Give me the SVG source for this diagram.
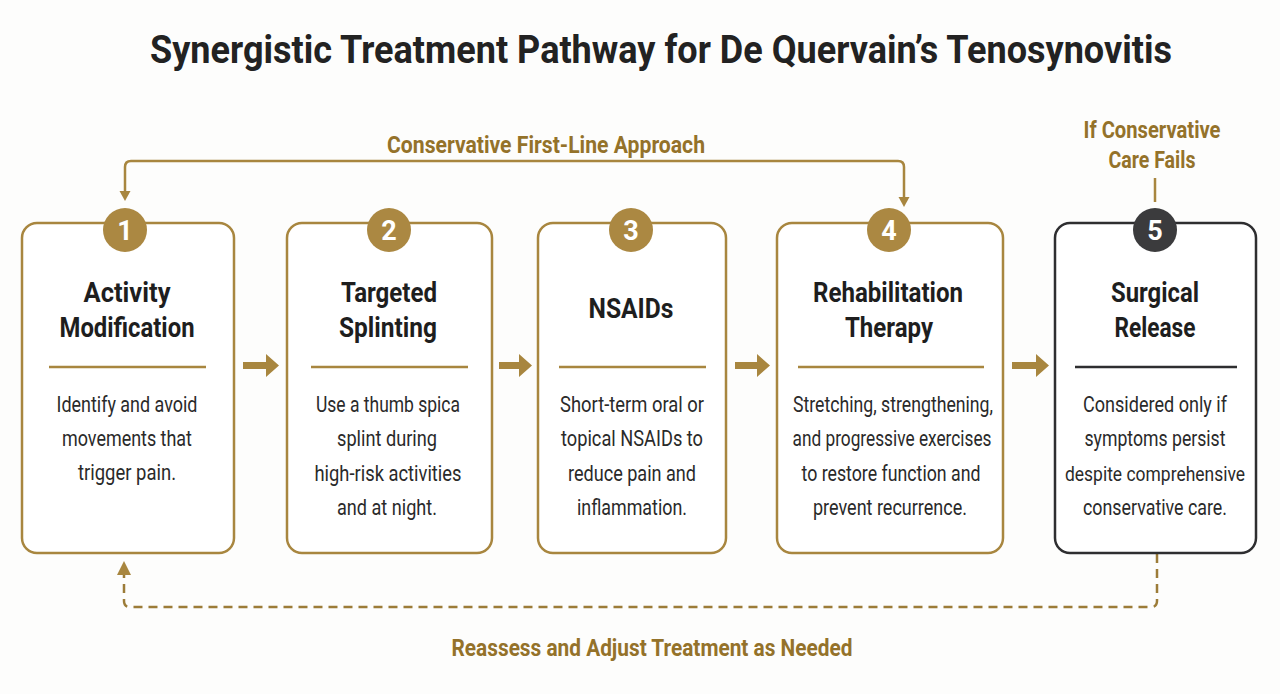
<svg xmlns="http://www.w3.org/2000/svg" width="1280" height="694" viewBox="0 0 1280 694">
<style>
  .bg{fill:#fdfdfc}
  .box{fill:#ffffff;stroke:#a8863f;stroke-width:2.5}
  .box.dark{stroke:#2e2e30}
  .badge{fill:#ab8842}
  .badge.dark{fill:#3b3b3d}
  .num{font-family:Roboto,"Liberation Sans",sans-serif;font-weight:700;font-size:27px;fill:#ffffff;text-anchor:middle}
  .ttl{font-family:Roboto,"Liberation Sans",sans-serif;font-weight:700;font-size:28px;fill:#1e1e1e;text-anchor:middle}
  .body{font-family:Roboto,"Liberation Sans",sans-serif;font-weight:400;font-size:22px;fill:#2a2a2a;text-anchor:middle}
  .body.sm{font-size:19.5px}
  .lbl{font-family:Roboto,"Liberation Sans",sans-serif;font-weight:700;font-size:23px;fill:#94722a;text-anchor:middle}
  .title{font-family:Roboto,"Liberation Sans",sans-serif;font-weight:700;font-size:38px;fill:#222222;text-anchor:middle}
  .div{stroke:#a8863f;stroke-width:2.5}
  .div.dark{stroke:#2e2e30}
  .conn{fill:none;stroke:#a8863f;stroke-width:2.5}
  .dash{fill:none;stroke:#9c7c38;stroke-width:2.5;stroke-dasharray:9 6}
  .head{fill:#a8863f}
  .flow{fill:#a8863f}
</style>
<rect class="bg" x="0" y="0" width="1280" height="694"/>

<text class="title" x="661" y="63" textLength="1022" lengthAdjust="spacingAndGlyphs">Synergistic Treatment Pathway for De Quervain’s Tenosynovitis</text>

<g id="connectors">
  <path class="conn" d="M904,198 L904,167 Q904,161 898,161 L131,161 Q125,161 125,167 L125,192"/>
  <polygon class="head" points="119.5,191 130.5,191 125,201"/>
  <polygon class="head" points="898.5,197 909.5,197 904,207"/>
  <text class="lbl" x="546" y="153" textLength="318" lengthAdjust="spacingAndGlyphs">Conservative First-Line Approach</text>

  <line class="conn" x1="1155" y1="178" x2="1155" y2="202"/>
  <text class="lbl" x="1152" y="138" textLength="137" lengthAdjust="spacingAndGlyphs">If Conservative</text>
  <text class="lbl" x="1152" y="168" textLength="87" lengthAdjust="spacingAndGlyphs">Care Fails</text>

  <path class="flow" d="M243,362 L266,362 L266,354 L279,365.5 L266,377 L266,369 L243,369 Z"/>
  <path class="flow" d="M499,362 L519,362 L519,354 L532,365.5 L519,377 L519,369 L499,369 Z"/>
  <path class="flow" d="M735,362 L757,362 L757,354 L770,365.5 L757,377 L757,369 L735,369 Z"/>
  <path class="flow" d="M1012,362 L1036,362 L1036,354 L1049,365.5 L1036,377 L1036,369 L1012,369 Z"/>

  <path class="dash" d="M1157,554 L1157,601 Q1157,607 1151,607 L130,607 Q124,607 124,601 L124,574"/>
  <polygon class="head" points="117,575 131,575 124,561"/>
  <text class="lbl" x="652" y="656" textLength="401" lengthAdjust="spacingAndGlyphs">Reassess and Adjust Treatment as Needed</text>
</g>

<g id="node1">
  <rect class="box" x="22" y="223" width="212" height="330" rx="15"/>
  <circle class="badge" cx="125" cy="230" r="22"/>
  <text class="num" x="125" y="240">1</text>
  <text class="ttl" x="127" y="302" textLength="87" lengthAdjust="spacingAndGlyphs">Activity</text>
  <text class="ttl" x="127" y="337" textLength="135" lengthAdjust="spacingAndGlyphs">Modification</text>
  <line class="div" x1="49" y1="367" x2="206" y2="367"/>
  <text class="body" x="127" y="412" textLength="141" lengthAdjust="spacingAndGlyphs">Identify and avoid</text>
  <text class="body" x="127" y="446" textLength="130" lengthAdjust="spacingAndGlyphs">movements that</text>
  <text class="body" x="127" y="480" textLength="98" lengthAdjust="spacingAndGlyphs">trigger pain.</text>
</g>

<g id="node2">
  <rect class="box" x="287" y="223" width="205" height="330" rx="15"/>
  <circle class="badge" cx="389" cy="230" r="22"/>
  <text class="num" x="389" y="240">2</text>
  <text class="ttl" x="389" y="302" textLength="96" lengthAdjust="spacingAndGlyphs">Targeted</text>
  <text class="ttl" x="388" y="337" textLength="98" lengthAdjust="spacingAndGlyphs">Splinting</text>
  <line class="div" x1="311" y1="367" x2="468" y2="367"/>
  <text class="body" x="388" y="412" textLength="144" lengthAdjust="spacingAndGlyphs">Use a thumb spica</text>
  <text class="body" x="387" y="446" textLength="100" lengthAdjust="spacingAndGlyphs">splint during</text>
  <text class="body" x="388" y="481" textLength="147" lengthAdjust="spacingAndGlyphs">high-risk activities</text>
  <text class="body" x="387" y="515" textLength="100" lengthAdjust="spacingAndGlyphs">and at night.</text>
</g>

<g id="node3">
  <rect class="box" x="538" y="223" width="188" height="330" rx="15"/>
  <circle class="badge" cx="631" cy="230" r="22"/>
  <text class="num" x="631" y="240">3</text>
  <text class="ttl" x="631" y="318" textLength="85" lengthAdjust="spacingAndGlyphs">NSAIDs</text>
  <line class="div" x1="559" y1="367" x2="706" y2="367"/>
  <text class="body" x="632" y="412" textLength="144" lengthAdjust="spacingAndGlyphs">Short-term oral or</text>
  <text class="body" x="632" y="446" textLength="142" lengthAdjust="spacingAndGlyphs">topical NSAIDs to</text>
  <text class="body" x="632" y="481" textLength="128" lengthAdjust="spacingAndGlyphs">reduce pain and</text>
  <text class="body" x="632" y="515" textLength="110" lengthAdjust="spacingAndGlyphs">inflammation.</text>
</g>

<g id="node4">
  <rect class="box" x="777" y="223" width="226" height="330" rx="15"/>
  <circle class="badge" cx="889" cy="230" r="22"/>
  <text class="num" x="889" y="240">4</text>
  <text class="ttl" x="888" y="302" textLength="150" lengthAdjust="spacingAndGlyphs">Rehabilitation</text>
  <text class="ttl" x="889" y="337" textLength="88" lengthAdjust="spacingAndGlyphs">Therapy</text>
  <line class="div" x1="798" y1="367" x2="984" y2="367"/>
  <text class="body" x="893" y="412" textLength="200" lengthAdjust="spacingAndGlyphs">Stretching, strengthening,</text>
  <text class="body" x="892" y="446" textLength="199" lengthAdjust="spacingAndGlyphs">and progressive exercises</text>
  <text class="body" x="891" y="481" textLength="179" lengthAdjust="spacingAndGlyphs">to restore function and</text>
  <text class="body" x="890" y="515" textLength="154" lengthAdjust="spacingAndGlyphs">prevent recurrence.</text>
</g>

<g id="node5">
  <rect class="box dark" x="1055" y="223" width="201" height="330" rx="15"/>
  <circle class="badge dark" cx="1155" cy="230" r="22"/>
  <text class="num" x="1155" y="240">5</text>
  <text class="ttl" x="1155" y="302" textLength="88" lengthAdjust="spacingAndGlyphs">Surgical</text>
  <text class="ttl" x="1155" y="337" textLength="81" lengthAdjust="spacingAndGlyphs">Release</text>
  <line class="div dark" x1="1075" y1="367" x2="1237" y2="367"/>
  <text class="body" x="1155" y="412" textLength="144" lengthAdjust="spacingAndGlyphs">Considered only if</text>
  <text class="body" x="1155" y="446" textLength="141" lengthAdjust="spacingAndGlyphs">symptoms persist</text>
  <text class="body sm" x="1155" y="481" textLength="180" lengthAdjust="spacingAndGlyphs">despite comprehensive</text>
  <text class="body" x="1155" y="515" textLength="144" lengthAdjust="spacingAndGlyphs">conservative care.</text>
</g>
</svg>
